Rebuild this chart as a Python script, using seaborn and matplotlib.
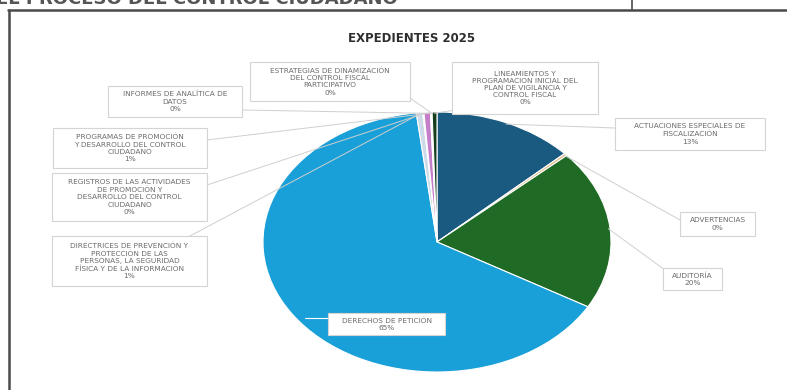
import numpy as np
import matplotlib
matplotlib.use("Agg")
import matplotlib.pyplot as plt
from matplotlib.patches import Rectangle
import seaborn as sns

# Expedientes 2025 por tipo (porcentaje del total)
categorias = [
    "ACTUACIONES ESPECIALES DE\nFISCALIZACIÓN",
    "ADVERTENCIAS",
    "AUDITORÍA",
    "DERECHOS DE PETICIÓN",
    "DIRECTRICES DE PREVENCIÓN Y\nPROTECCIÓN DE LAS\nPERSONAS, LA SEGURIDAD\nFÍSICA Y DE LA INFORMACIÓN",
    "REGISTROS DE LAS ACTIVIDADES\nDE PROMOCIÓN Y\nDESARROLLO DEL CONTROL\nCIUDADANO",
    "PROGRAMAS DE PROMOCIÓN\nY DESARROLLO DEL CONTROL\nCIUDADANO",
    "INFORMES DE ANALÍTICA DE\nDATOS",
    "ESTRATEGIAS DE DINAMIZACIÓN\nDEL CONTROL FISCAL\nPARTICIPATIVO",
    "LINEAMIENTOS Y\nPROGRAMACION INICIAL DEL\nPLAN DE VIGILANCIA Y\nCONTROL FISCAL",
]
porcentajes = [13.1, 0.3, 19.9, 64.8, 0.6, 0.1, 0.6, 0.1, 0.05, 0.45]
titulo = "EXPEDIENTES 2025"

colores = ["#1b5a80", "#e2b98a", "#1f6b25", "#1aa0d8", "#cddbe9",
           "#bdbdbd", "#c57ec9", "#e6def0", "#efefef", "#163d1b"]

sns.set_theme(style="white")
plt.rcParams["font.family"] = ["DejaVu Sans"]

W, H = 787, 390
fig = plt.figure(figsize=(W / 100, H / 100), dpi=100)
ax = fig.add_axes([0, 0, 1, 1])

# pie centre and radii in pixels (top-left origin)
CX, CY, RX, RY = 437, 242, 174, 130


def px(x, y):
    return (x - CX) / RX, (CY - y) / RY


wedges, _ = ax.pie(porcentajes, colors=colores, startangle=90, counterclock=False,
                   wedgeprops=dict(edgecolor="white", linewidth=0.8))
ax.set_aspect("auto")
ax.set_xlim(px(0, 0)[0], px(W, 0)[0])
ax.set_ylim(px(0, H)[1], px(0, 0)[1])
ax.axis("off")

# label boxes: (left, top, right, bottom) in pixels, plus leader start point
cajas = [
    ((615, 118, 765, 150), (615, 128)),
    ((680, 212, 755, 236), (680, 220)),
    ((663, 268, 722, 290), (665, 270)),
    ((328, 313, 445, 335), (328, 318)),
    ((52, 236, 207, 286), (190, 236)),
    ((52, 173, 207, 221), (207, 185)),
    ((53, 128, 207, 168), (207, 140)),
    ((108, 86, 242, 117), (242, 110)),
    ((250, 62, 410, 101), (410, 98)),
    ((452, 62, 598, 114), (455, 110)),
]

for w, cat, pct, (box, anchor) in zip(wedges, categorias, porcentajes, cajas):
    l, t, r, b = box
    x0, y0 = px(l, b)
    x1, y1 = px(r, t)
    # leader line from the wedge rim to the box
    mid = np.deg2rad((w.theta1 + w.theta2) / 2)
    rim = (np.cos(mid) * 0.99, np.sin(mid) * 0.99)
    ax_, ay_ = px(*anchor)
    if cat.startswith("DERECHOS"):
        ax.plot([ax_, px(305, 318)[0]], [ay_, ay_], color="white", lw=0.8, zorder=3)
    else:
        ax.plot([rim[0], ax_], [rim[1], ay_], color="#cfcfcf", lw=0.7, zorder=3)
    ax.add_patch(Rectangle((x0, y0), x1 - x0, y1 - y0, facecolor="white",
                           edgecolor="#d4d4d4", lw=0.8, zorder=4))
    ax.text((x0 + x1) / 2, (y0 + y1) / 2, f"{cat}\n{round(pct)}%",
            ha="center", va="center", fontsize=5.3, color="#6b6b6b",
            linespacing=1.25, zorder=5)

fig.text(412 / W, 1 - 38 / H, titulo, ha="center", va="center",
         fontsize=8.5, fontweight="bold", color="#2e2e2e")

# surrounding page frame and the heading above it, cut by the page edge
fig.add_artist(plt.Line2D([8 / W, 1], [1 - 10 / H, 1 - 10 / H], color="#4a4a4a", lw=1.8))
fig.add_artist(plt.Line2D([9 / W, 9 / W], [0, 1 - 10 / H], color="#4a4a4a", lw=1.8))
fig.add_artist(plt.Line2D([632 / W, 632 / W], [1 - 10 / H, 1], color="#4a4a4a", lw=1.2))
fig.text(-4 / W, 1 - 4 / H, "EL PROCESO DEL CONTROL CIUDADANO", ha="left", va="baseline",
         fontsize=13, fontweight="bold", color="#555555")

fig.savefig("out.png", dpi=100)
